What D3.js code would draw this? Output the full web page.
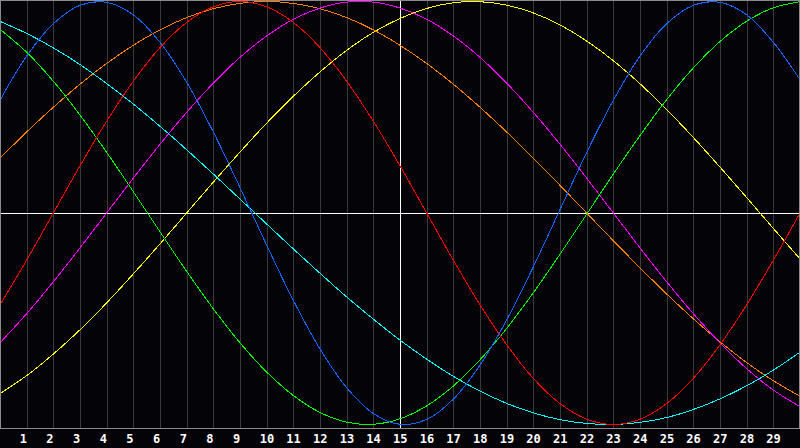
<!DOCTYPE html>
<html>
<head>
<meta charset="utf-8">
<script src="https://cdn.jsdelivr.net/npm/d3@7"></script>
<style>
  html, body { margin: 0; padding: 0; background: #040307; }
  svg { display: block; }
</style>
</head>
<body>
<div id="chart"></div>
<script>
// days 0..30, one value per day (-1..1)
var days = d3.range(0, 31);
var dayLabels = ["1","2","3","4","5","6","7","8","9","10","11","12","13","14","15",
  "16","17","18","19","20","21","22","23","24","25","26","27","28","29"];

var blue = [0.533,0.742,0.895,0.982,0.996,0.937,0.807,0.618,0.383,0.120,-0.152,-0.413,-0.643,-0.826,-0.948,
  -0.999,-0.976,-0.880,-0.719,-0.506,-0.254,0.016,0.286,0.533,0.742,0.895,0.982,0.996,0.937,0.807,0.630];
var red = [-0.434,-0.223,0,0.223,0.434,0.623,0.782,0.901,0.975,1.000,0.975,0.901,0.782,0.623,0.434,
  0.223,0,-0.223,-0.434,-0.623,-0.782,-0.901,-0.975,-1.000,-0.975,-0.901,-0.782,-0.623,-0.434,-0.223,0];
var green = [0.869,0.760,0.623,0.463,0.287,0.101,-0.089,-0.276,-0.453,-0.614,-0.752,-0.863,-0.943,-0.989,-0.999,
  -0.973,-0.912,-0.818,-0.694,-0.546,-0.377,-0.195,-0.006,0.184,0.366,0.536,0.686,0.811,0.907,0.970,0.999];
var cyan = [0.906,0.849,0.781,0.702,0.612,0.515,0.410,0.299,0.184,0.066,-0.052,-0.170,-0.285,-0.397,-0.502,
  -0.601,-0.691,-0.772,-0.842,-0.900,-0.945,-0.977,-0.995,-1.000,-0.990,-0.967,-0.929,-0.879,-0.817,-0.743,-0.658];
var magenta = [-0.614,-0.476,-0.325,-0.165,0,0.165,0.325,0.476,0.614,0.736,0.837,0.916,0.969,0.997,0.997,
  0.969,0.916,0.837,0.736,0.614,0.476,0.325,0.165,0,-0.165,-0.325,-0.476,-0.614,-0.736,-0.837,-0.916];
var orange = [0.259,0.383,0.500,0.609,0.707,0.793,0.866,0.924,0.966,0.991,1.000,0.991,0.966,0.924,0.866,
  0.793,0.707,0.609,0.500,0.383,0.259,0.131,0,-0.131,-0.259,-0.383,-0.500,-0.609,-0.707,-0.793,-0.866];
var yellow = [-0.854,-0.769,-0.667,-0.552,-0.425,-0.288,-0.146,0,0.146,0.288,0.425,0.552,0.667,0.769,0.854,
  0.920,0.967,0.994,0.999,0.983,0.946,0.889,0.813,0.720,0.611,0.489,0.357,0.217,0.073,-0.073,-0.217];

var series = [
  {name: "yellow",  values: yellow,  color: "#ffff00"},
  {name: "orange",  values: orange,  color: "#ff8000"},
  {name: "magenta", values: magenta, color: "#ff00ff"},
  {name: "cyan",    values: cyan,    color: "#00ffff"},
  {name: "green",   values: green,   color: "#00ff00"},
  {name: "red",     values: red,     color: "#ff0000"},
  {name: "blue",    values: blue,    color: "#1464ff"}
];

var width = 800, height = 448, plotH = 428;

var svg = d3.select("#chart").append("svg")
  .attr("width", width)
  .attr("height", height);

svg.append("rect")
  .attr("width", width).attr("height", height)
  .attr("fill", "#040307");

var x = d3.scaleLinear().domain([0, 30]).range([0, width]);
var y = d3.scaleLinear().domain([-1, 1]).range([424.5, 1.5]);

// day gridlines
svg.append("g")
  .selectAll("line")
  .data(d3.range(1, 30))
  .enter().append("line")
    .attr("x1", function(d) { return Math.round(x(d)) + 0.5; })
    .attr("x2", function(d) { return Math.round(x(d)) + 0.5; })
    .attr("y1", 0)
    .attr("y2", plotH)
    .attr("stroke", "#3a3a3a")
    .attr("stroke-width", 1);

// centre lines
svg.append("line")
  .attr("x1", 0).attr("x2", width)
  .attr("y1", Math.floor(y(0)) + 0.5).attr("y2", Math.floor(y(0)) + 0.5)
  .attr("stroke", "#ffffff").attr("stroke-width", 1);
svg.append("line")
  .attr("x1", x(15) + 0.5).attr("x2", x(15) + 0.5)
  .attr("y1", 0).attr("y2", plotH)
  .attr("stroke", "#ffffff").attr("stroke-width", 1);

var line = d3.line()
  .x(function(d, i) { return x(days[i]); })
  .y(function(d) { return y(d); })
  .curve(d3.curveCatmullRom.alpha(0.5));

svg.append("g")
  .selectAll("path")
  .data(series)
  .enter().append("path")
    .attr("d", function(s) { return line(s.values); })
    .attr("fill", "none")
    .attr("stroke", function(s) { return s.color; })
    .attr("stroke-width", 1)
    .attr("shape-rendering", "crispEdges");

// border
svg.append("rect")
  .attr("x", 0.5).attr("y", 0.5)
  .attr("width", width - 1).attr("height", plotH)
  .attr("fill", "none")
  .attr("stroke", "#8a8a8a")
  .attr("stroke-width", 1);

// day labels
svg.append("g")
  .selectAll("text")
  .data(dayLabels)
  .enter().append("text")
    .attr("x", function(d, i) { return x(i + 1) - 7; })
    .attr("y", 443)
    .attr("fill", "#ffffff")
    .attr("font-family", "DejaVu Sans Mono, monospace")
    .attr("font-weight", "bold")
    .attr("font-size", "12px")
    .text(function(d) { return d; });
</script>
</body>
</html>
